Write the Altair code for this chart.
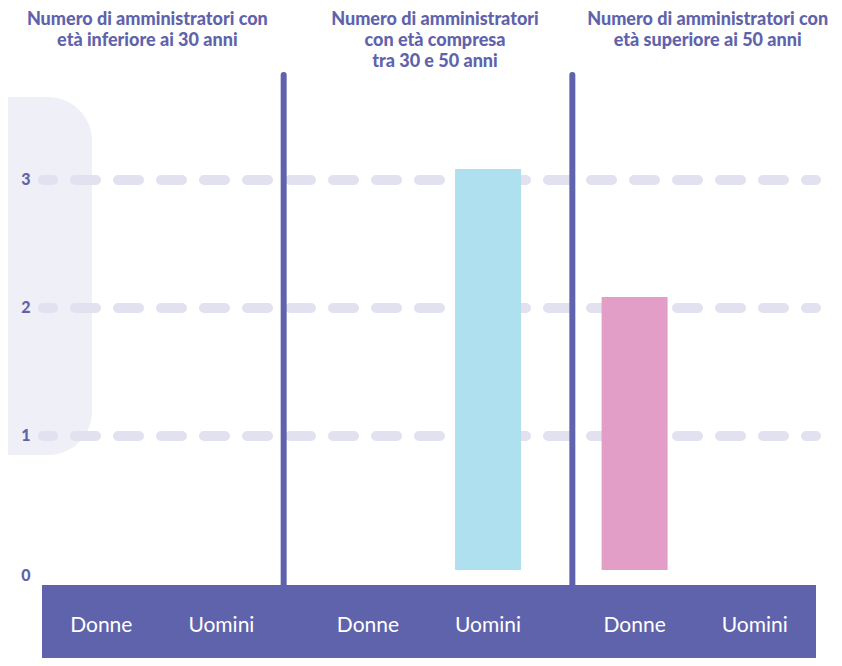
import altair as alt
import pandas as pd

# ---- data ----
group_keys = ["under30", "30to50", "over50"]
title_lines = [
    ["Numero di amministratori con", "età inferiore ai 30 anni"],
    ["Numero di amministratori", "con età compresa", "tra 30 e 50 anni"],
    ["Numero di amministratori con", "età superiore ai 50 anni"],
]
title_shift = [-14, 7, 13]  # small horizontal nudges of the titles (style)
genders = ["Donne", "Uomini"]
donne_values = [0, 0, 2]
uomini_values = [0, 3, 0]
y_ticks = [1, 2, 3]
y_zero = [0]

PURPLE = "#5f63ab"
GRID = "#e1e1f0"
BLOB = "#efeff7"
PINK = "#e29ec6"
BLUE = "#afe0f0"
FONT = "Lato"

rows = []
for i, g in enumerate(group_keys):
    rows.append({"group": g, "gender": "Donne", "value": donne_values[i]})
    rows.append({"group": g, "gender": "Uomini", "value": uomini_values[i]})
bars_df = pd.DataFrame(rows)
grid_df = pd.DataFrame({"tick": y_ticks})
zero_df = pd.DataFrame({"tick": y_zero})
one = pd.DataFrame({"a": [0]})

x_scale = alt.Scale(domain=group_keys, range=[20, 820], paddingInner=0, paddingOuter=0)
xo_scale = alt.Scale(domain=genders, paddingInner=0, paddingOuter=0.11)
y_scale = alt.Scale(domain=[0, 3], range=[556, 172])
bar_y_scale = alt.Scale(domain=[0, 3], range=[545, 161])

blob = alt.Chart(one).mark_rect(color=BLOB, cornerRadius=44).encode(
    x=alt.value(-40), x2=alt.value(84), y=alt.value(89), y2=alt.value(447)
)

grid = alt.Chart(grid_df).mark_rule(
    strokeWidth=10, strokeDash=[21, 22], strokeDashOffset=11, strokeCap="round", color=GRID
).encode(
    y=alt.Y("tick:Q", scale=y_scale, axis=None),
    x=alt.value(35), x2=alt.value(808),
)

bars = alt.Chart(bars_df).transform_filter("datum.value > 0").mark_bar(width=66).encode(
    x=alt.X("group:N", scale=x_scale, axis=None),
    xOffset=alt.XOffset("gender:N", scale=xo_scale),
    y=alt.Y("value:Q", scale=bar_y_scale, axis=None, stack=None),
    y2=alt.value(562),
    color=alt.Color("gender:N", scale=alt.Scale(domain=genders, range=[PINK, BLUE]), legend=None),
)

sep1 = alt.Chart(pd.DataFrame({"group": [group_keys[1]]})).mark_rule(
    strokeWidth=6, strokeCap="round", color=PURPLE, xOffset=-11
).encode(
    x=alt.X("group:N", scale=x_scale, bandPosition=0, axis=None),
    y=alt.value(67), y2=alt.value(577),
)
sep2 = alt.Chart(pd.DataFrame({"group": [group_keys[2]]})).mark_rule(
    strokeWidth=6, strokeCap="round", color=PURPLE, xOffset=11
).encode(
    x=alt.X("group:N", scale=x_scale, bandPosition=0, axis=None),
    y=alt.value(67), y2=alt.value(577),
)

band = alt.Chart(one).mark_rect(color=PURPLE).encode(
    x=alt.value(34), x2=alt.value(808), y=alt.value(577), y2=alt.value(660)
)

cat_labels = alt.Chart(bars_df).mark_text(
    color="white", fontSize=21, font=FONT, baseline="middle"
).encode(
    x=alt.X("group:N", scale=x_scale, axis=None),
    xOffset=alt.XOffset("gender:N", scale=xo_scale),
    y=alt.value(618),
    text="gender:N",
)

title_layers = []
for g, lines, shift in zip(group_keys, title_lines, title_shift):
    tdf = pd.DataFrame({"group": [g], "lines": [lines]})
    title_layers.append(
        alt.Chart(tdf).mark_text(
            color=PURPLE, fontSize=18, fontWeight=900, font=FONT, lineHeight=21,
            baseline="middle", dx=shift
        ).encode(
            x=alt.X("group:N", scale=x_scale, axis=None),
            y=alt.value(12),
            text="lines",
        )
    )

ylabels = alt.Chart(grid_df).mark_text(
    color=PURPLE, fontSize=16, fontWeight=900, font=FONT, align="center", baseline="middle"
).encode(
    y=alt.Y("tick:Q", scale=y_scale, axis=None),
    x=alt.value(18),
    text="tick:Q",
)

ylabel0 = alt.Chart(zero_df).mark_text(
    color=PURPLE, fontSize=16, fontWeight=900, font=FONT, align="center", baseline="middle", dy=12
).encode(
    y=alt.Y("tick:Q", scale=y_scale, axis=None),
    x=alt.value(18),
    text="tick:Q",
)

chart = alt.layer(
    blob, grid, bars, sep1, sep2, band, cat_labels, *title_layers, ylabels, ylabel0
).resolve_scale(y="independent").properties(
    width=826, height=650, autosize="none", padding=0, background="white"
).configure_view(stroke=None)

chart.save("out.html", embed_options={"renderer": "svg", "actions": False})
